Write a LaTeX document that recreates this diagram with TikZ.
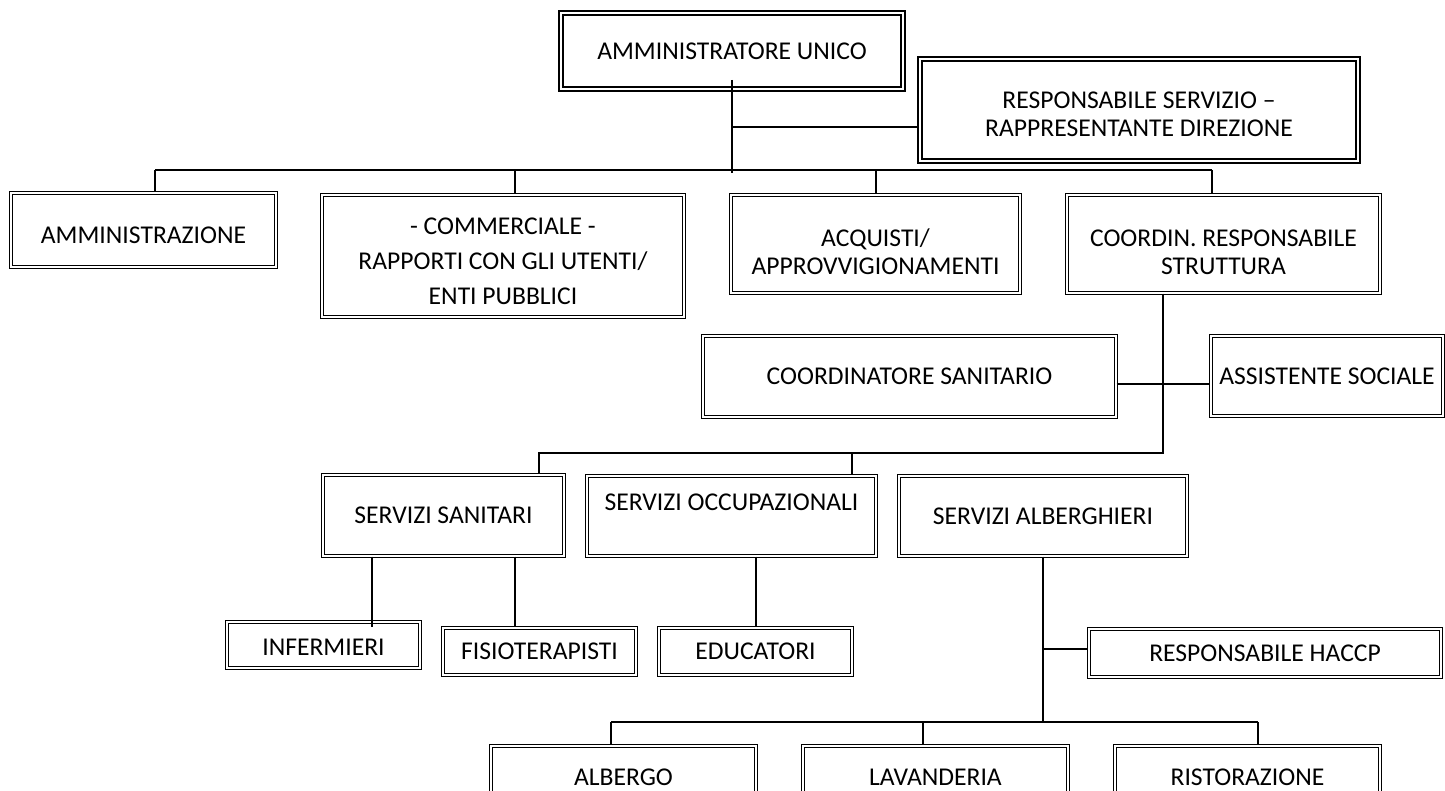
\documentclass[tikz,border=0pt]{standalone}
\usepackage{fontspec}
\setmainfont{Carlito}
\newcommand{\giu}[2]{\raisebox{-#1}[\height][\depth]{\begin{tabular}{@{}c@{}}#2\end{tabular}}}
\begin{document}
\begin{tikzpicture}[x=0.75pt,y=-0.75pt,
    box/.style={draw=black,double,line width=1pt,double distance=0.9pt,
      align=center,inner sep=0pt,font=\fontsize{19.2}{21}\selectfont},
    headbox/.style={box,line width=1.5pt,double distance=1.1pt},
    sz/.style 2 args={minimum width=#1*0.75pt,minimum height=#2*0.75pt},
    link/.style={line width=1.1pt}]
  \useasboundingbox (0,0) rectangle (1445,791);
  \clip (0,0) rectangle (1445,791);
  % vertici
  \node[headbox,sz={342}{76}] (au) at (732,51) {AMMINISTRATORE UNICO};
  \node[headbox,sz={438}{102}] (rs) at (1139,110) {\giu{5pt}{RESPONSABILE SERVIZIO --\\RAPPRESENTANTE DIREZIONE}};
  % uffici
  \node[box,sz={265}{74}] (ammin) at (143.5,230) {\giu{6pt}{AMMINISTRAZIONE}};
  \node[box,sz={362}{122},font=\fontsize{19.2}{26}\selectfont] (comm) at (503,256) {\giu{5pt}{- COMMERCIALE -\\RAPPORTI CON GLI UTENTI/\\ENTI PUBBLICI}};
  \node[box,sz={289}{98}] (acq) at (875.5,244) {\giu{8pt}{ACQUISTI/\\APPROVVIGIONAMENTI}};
  \node[box,sz={313}{98}] (coord) at (1223.5,244) {\giu{8pt}{COORDIN. RESPONSABILE\\STRUTTURA}};
  \node[box,sz={413}{81}] (cs) at (909.5,376.5) {COORDINATORE SANITARIO};
  \node[box,sz={232}{80}] (as) at (1327,376) {ASSISTENTE SOCIALE};
  % servizi
  \node[box,sz={241}{81}] (ss) at (443.5,515.5) {SERVIZI SANITARI};
  \node[box,sz={289}{80}] (so) at (731.5,516) {\giu{-8pt}{SERVIZI OCCUPAZIONALI}};
  \node[box,sz={288}{80}] (sa) at (1043,516) {SERVIZI ALBERGHIERI};
  \node[box,sz={193}{46}] (inf) at (323.5,645) {\giu{4pt}{INFERMIERI}};
  \node[box,sz={193}{47}] (fis) at (539.5,651.5) {FISIOTERAPISTI};
  \node[box,sz={193}{47}] (edu) at (755.5,651.5) {EDUCATORI};
  \node[box,sz={352}{48}] (haccp) at (1265,653) {RESPONSABILE HACCP};
  \node[box,sz={265}{62}] (alb) at (623.5,777) {ALBERGO};
  \node[box,sz={265}{62}] (lav) at (935.5,777) {LAVANDERIA};
  \node[box,sz={265}{62}] (ris) at (1247.5,777) {RISTORAZIONE};
  % collegamenti
  \coordinate (j1) at (732,127);
  \draw[link] ([yshift=7.5pt]au.south) -- (732,173);
  \draw[link] (j1) -- (j1 -| rs.west);
  \draw[link] (155,170) -- (1212,170);
  \foreach \x/\n in {155/ammin,515/comm,876/acq,1212/coord}
    \draw[link] (\x,170) -- (\x,170 |- \n.north);
  \coordinate (j2) at (1163,453);
  \draw[link] (j2 |- coord.south) -- (j2) -- (539,453) -- (539,453 |- ss.north);
  \draw[link] (852,453) -- (852,453 |- so.north);
  \draw[link] (cs.east |- 0,384) -- (as.west |- 0,384);
  \draw[link] (372,0 |- ss.south) -- (372,0 |- fis.north);
  \draw[link] (515,0 |- ss.south) -- (515,0 |- fis.north);
  \draw[link] (756,0 |- so.south) -- (756,0 |- edu.north);
  \coordinate (j3) at (1043,722);
  \draw[link] (sa.south) -- (j3);
  \draw[link] (1043,649) -- (1043,649 -| haccp.west);
  \draw[link] (611,722) -- (1258,722);
  \foreach \x/\n in {611/alb,923/lav,1258/ris}
    \draw[link] (\x,722) -- (\x,722 |- \n.north);
\end{tikzpicture}
\end{document}
